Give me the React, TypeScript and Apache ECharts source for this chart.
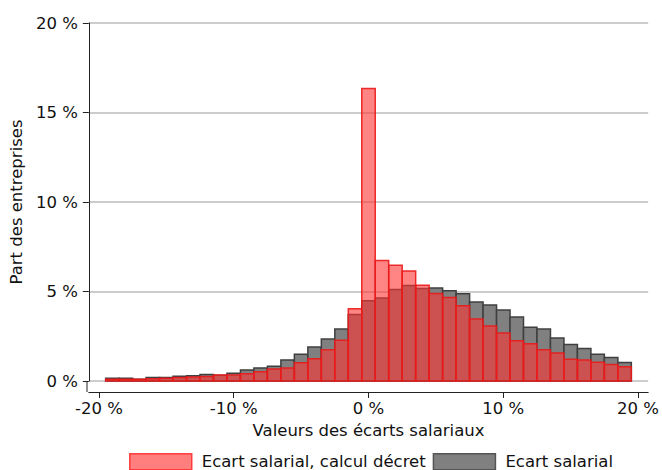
import React, { useEffect, useRef } from "react";
import * as echarts from "echarts";

const binCenters = [-19, -18, -17, -16, -15, -14, -13, -12, -11, -10, -9, -8, -7, -6, -5, -4, -3, -2, -1, 0, 1, 2, 3, 4, 5, 6, 7, 8, 9, 10, 11, 12, 13, 14, 15, 16, 17, 18, 19];
const ecartSalarial = [0.15, 0.15, 0.1, 0.2, 0.2, 0.27, 0.3, 0.37, 0.32, 0.43, 0.62, 0.73, 0.82, 1.18, 1.5, 1.9, 2.34, 2.9, 3.71, 4.49, 4.64, 5.11, 5.34, 5.17, 5.19, 5.04, 4.87, 4.42, 4.25, 3.97, 3.58, 3.0, 2.9, 2.4, 2.04, 1.82, 1.5, 1.31, 1.03];
const ecartDecret = [0.1, 0.1, 0.1, 0.12, 0.15, 0.2, 0.22, 0.25, 0.33, 0.33, 0.4, 0.52, 0.67, 0.73, 1.02, 1.24, 1.74, 2.28, 4.04, 16.34, 6.73, 6.47, 6.14, 5.35, 4.89, 4.66, 4.21, 3.46, 3.07, 2.68, 2.25, 2.08, 1.74, 1.57, 1.22, 1.18, 1.05, 0.92, 0.79];
const xTicks = [-20, -10, 0, 10, 20];
const seriesNames = ["Ecart salarial, calcul décret", "Ecart salarial"];

const FONT = "DejaVu Sans";
const FS = 16.5;
const RED_FILL = "rgba(255,50,50,0.6)";
const RED_STROKE = "rgba(235,25,25,0.9)";
const GRAY_FILL = "#808080";
const GRAY_STROKE = "#3f3f3f";

function makeRender(fill: string, stroke: string) {
  return (params: any, api: any) => {
    const x = api.value(0);
    const y = api.value(1);
    const p0 = api.coord([x - 0.5, y]);
    const p1 = api.coord([x + 0.5, 0]);
    return {
      type: "rect",
      shape: { x: p0[0], y: p0[1], width: p1[0] - p0[0], height: p1[1] - p0[1] },
      style: { fill, stroke, lineWidth: 1.5 },
    };
  };
}

export default function App() {
  const ref = useRef<HTMLDivElement>(null);
  useEffect(() => {
    if (!ref.current) return;
    const chart = echarts.init(ref.current, null, { renderer: "svg" });
    const grayData = binCenters.map((c, i) => [c, ecartSalarial[i]]);
    const redData = binCenters.map((c, i) => [c, ecartDecret[i]]);
    chart.setOption({
      animation: false,
      textStyle: { fontFamily: FONT },
      grid: { left: 87, right: 11, top: 23, bottom: 89, containLabel: false },
      legend: {
        left: 129,
        top: 453,
        padding: 0,
        itemWidth: 62,
        itemHeight: 16,
        itemGap: 7,
        icon: "rect",
        textStyle: { fontFamily: FONT, fontSize: FS, color: "#111", padding: [0, 0, 0, 5] },
        data: [
          { name: seriesNames[0], itemStyle: { color: "rgba(255,0,0,0.5)", borderColor: "rgba(255,40,40,0.85)", borderWidth: 1.5 } },
          { name: seriesNames[1], itemStyle: { color: GRAY_FILL, borderColor: "#555", borderWidth: 1.5 } },
        ],
      },
      xAxis: {
        type: "value",
        min: -20.75,
        max: 20.75,
        offset: 11,
        name: "Valeurs des écarts salariaux",
        nameLocation: "middle",
        nameGap: 23,
        nameTextStyle: { fontFamily: FONT, fontSize: FS, color: "#111" },
        axisLine: { show: true, onZero: false, lineStyle: { color: "#222", width: 1 } },
        axisTick: { show: true, length: 6, customValues: xTicks, lineStyle: { color: "#222" } },
        axisLabel: {
          customValues: xTicks,
          margin: 8,
          fontFamily: FONT,
          fontSize: FS,
          color: "#111",
          formatter: (v: number) => `${v} %`,
        },
        splitLine: { show: false },
      },
      yAxis: {
        type: "value",
        min: 0,
        max: 20,
        interval: 5,
        name: "Part des entreprises",
        nameLocation: "middle",
        nameGap: 58,
        nameTextStyle: { fontFamily: FONT, fontSize: FS, color: "#111" },
        axisLine: { show: true, onZero: false, lineStyle: { color: "#222", width: 1 } },
        axisTick: { show: true, length: 6, lineStyle: { color: "#222" } },
        axisLabel: {
          margin: 11,
          fontFamily: FONT,
          fontSize: FS,
          color: "#111",
          formatter: (v: number) => `${v} %`,
        },
        splitLine: { show: true, lineStyle: { color: "#bdbdbd", width: 1.5 } },
      },
      graphic: [
        {
          type: "line",
          shape: { x1: 87, y1: 381, x2: 87, y2: 392 },
          style: { stroke: "#222", lineWidth: 1 },
        },
      ],
      series: [
        {
          name: seriesNames[1],
          type: "custom",
          renderItem: makeRender(GRAY_FILL, GRAY_STROKE),
          itemStyle: { color: GRAY_FILL },
          encode: { x: 0, y: 1 },
          data: grayData,
          z: 2,
        },
        {
          name: seriesNames[0],
          type: "custom",
          renderItem: makeRender(RED_FILL, RED_STROKE),
          itemStyle: { color: RED_FILL },
          encode: { x: 0, y: 1 },
          data: redData,
          z: 3,
        },
      ],
    });
    return () => chart.dispose();
  }, []);
  return <div ref={ref} style={{ width: 662, height: 470, position: "absolute", left: 0, top: 0 }} />;
}
